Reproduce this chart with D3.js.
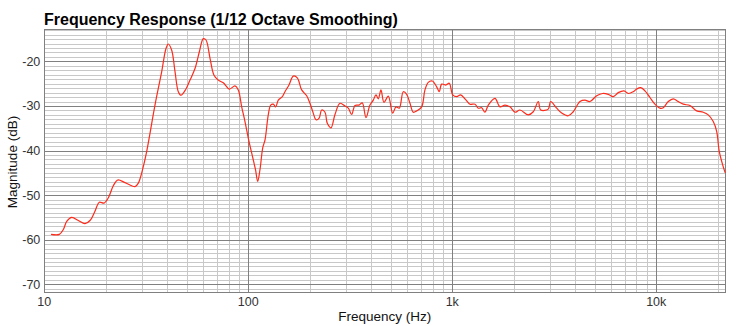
<!DOCTYPE html>
<html>
<head>
<meta charset="utf-8">
<script src="https://cdn.jsdelivr.net/npm/d3@7"></script>
<style>
body { margin: 0; background: #fff; }
text { font-family: "Liberation Sans", Arial, sans-serif; }
</style>
</head>
<body>
<script>
// frequency response values
var freq = [10.79, 11.85, 12.40, 12.88, 13.63, 14.68, 15.83, 16.75, 17.72, 18.61,
  19.62, 20.60, 21.79, 22.91, 24.86, 27.84, 28.90, 30.57, 31.77, 34.88,
  37.63, 39.50, 40.54, 42.13, 43.73, 45.39, 46.79, 49.34, 51.80, 54.80,
  57.53, 60.19, 62.05, 64.92, 67.92, 71.29, 75.43, 80.70, 86.06, 89.32,
  92.82, 96.34, 100, 105.8, 108.5, 111.2, 114.1, 117.7, 120.8, 125.3,
  128.8, 132.6, 136.2, 140.3, 146.8, 151.3, 158.3, 166.2, 173.9, 182.7,
  193.3, 200.6, 208.2, 214.7, 222.1, 229.0, 237.7, 244.0, 254.3, 266.1,
  281.5, 297.9, 309.2, 321.2, 333.4, 348.8, 362.1, 377.5, 394.9, 410.0,
  422.7, 433.8, 447.2, 462.6, 485.6, 510.4, 529.8, 549.9, 575.3, 597.8,
  620.5, 644.1, 669.3, 707.9, 734.7, 762.6, 797.8, 838.4, 863.4, 887.2,
  931.3, 966.7, 1005, 1051, 1099, 1154, 1221, 1292, 1341, 1393,
  1446, 1502, 1619, 1713, 1813, 1918, 2030, 2148, 2358, 2495,
  2640, 2713, 2955, 3036, 3249, 3438, 3704, 3919, 4227, 4472,
  4732, 5104, 5462, 5818, 6156, 6513, 6946, 7291, 7715, 8018,
  8388, 8802, 9314, 9854, 10426, 10821, 11450, 12115, 12818, 13563,
  14629, 15781, 16999, 17986, 19030, 19775, 20363, 21160, 21791];
var mag = [-58.8, -58.8, -57.7, -55.9, -55.0, -55.7, -56.4, -55.7, -53.6, -51.6,
  -51.8, -50.6, -47.9, -46.6, -47.2, -48.1, -47.3, -43.6, -40.2, -29.8,
  -22.3, -17.1, -16.1, -17.5, -22.3, -26.8, -27.6, -26.3, -24.2, -21.6,
  -17.9, -14.9, -15.2, -19.3, -23.1, -24.2, -24.8, -26.2, -25.5, -26.4,
  -30.2, -33.5, -37.2, -42.1, -44.3, -46.9, -44.3, -39.4, -37.6, -32.0,
  -29.8, -29.6, -30.2, -28.7, -27.9, -26.8, -25.3, -23.3, -23.7, -26.4,
  -27.7, -29.4, -31.6, -33.1, -32.8, -30.9, -31.4, -33.9, -34.9, -31.9,
  -29.4, -30.0, -30.5, -31.9, -29.9, -29.8, -29.3, -32.6, -29.8, -28.7,
  -27.5, -28.4, -26.4, -29.2, -27.8, -31.6, -30.2, -30.5, -26.8, -27.4,
  -29.4, -31.4, -31.1, -30.2, -26.4, -24.7, -24.4, -25.7, -26.8, -25.1,
  -25.3, -24.9, -27.5, -27.9, -27.5, -28.4, -29.6, -29.6, -30.5, -30.4,
  -31.4, -29.8, -28.3, -30.2, -29.8, -30.2, -31.4, -30.9, -32.0, -31.3,
  -29.0, -30.9, -30.7, -29.0, -30.5, -31.6, -32.2, -31.3, -29.0, -28.7,
  -29.0, -27.7, -27.2, -27.4, -27.9, -27.0, -26.6, -27.2, -26.8, -26.2,
  -25.9, -26.6, -28.1, -29.6, -30.5, -30.4, -29.0, -28.4, -29.0, -29.6,
  -29.9, -31.1, -31.4, -32.0, -33.5, -35.7, -40.2, -43.2, -45.0];

var xTicks = [10, 100, 1000, 10000];
var xTickLabels = ["10", "100", "1k", "10k"];
var yTicks = [-20, -30, -40, -50, -60, -70];

var w = 751, h = 326;
var pLeft = 44.3, pRight = 725.3, pTop = 29.3, pBottom = 292.3;

var x = d3.scaleLog().domain([10, 21800]).range([pLeft, pRight]);
var y = d3.scaleLinear().domain([-71.8, -12.8]).range([pBottom, pTop]);

var svg = d3.select("body").append("svg")
  .attr("width", w)
  .attr("height", h);

function px(v) { return Math.round(v) + 0.5; }

// griglia minore
var minorX = [];
xTicks.forEach(function(d) {
  for (var k = 2; k <= 9; k++) {
    if (k * d < 21800) minorX.push(k * d);
  }
});
var minorY = d3.range(-71, -12).filter(function(v) { return v % 10 !== 0; });

var grid = svg.append("g").attr("shape-rendering", "crispEdges");

grid.selectAll(".mx").data(minorX).enter().append("line")
  .attr("x1", function(d) { return px(x(d)); })
  .attr("x2", function(d) { return px(x(d)); })
  .attr("y1", pTop).attr("y2", pBottom)
  .attr("stroke", "#c8c8c8");

grid.selectAll(".my").data(minorY).enter().append("line")
  .attr("x1", pLeft).attr("x2", pRight)
  .attr("y1", function(d) { return px(y(d)); })
  .attr("y2", function(d) { return px(y(d)); })
  .attr("stroke", "#c8c8c8");

// griglia maggiore
grid.selectAll(".My").data(yTicks).enter().append("line")
  .attr("x1", pLeft).attr("x2", pRight)
  .attr("y1", function(d) { return px(y(d)); })
  .attr("y2", function(d) { return px(y(d)); })
  .attr("stroke", "#808080");

grid.selectAll(".Mx").data(xTicks.slice(1)).enter().append("line")
  .attr("x1", function(d) { return px(x(d)); })
  .attr("x2", function(d) { return px(x(d)); })
  .attr("y1", pTop).attr("y2", pBottom)
  .attr("stroke", "#808080");

// cornice
grid.append("rect")
  .attr("x", px(pLeft)).attr("y", px(pTop))
  .attr("width", Math.round(pRight) - Math.round(pLeft))
  .attr("height", Math.round(pBottom) - Math.round(pTop))
  .attr("fill", "none")
  .attr("stroke", "#808080");

// curva
var pts = freq.map(function(f, i) { return [f, mag[i]]; });
var line = d3.line()
  .x(function(d) { return x(d[0]); })
  .y(function(d) { return y(d[1]); })
  .curve(d3.curveCatmullRom.alpha(0.5));

svg.append("path")
  .datum(pts)
  .attr("d", line)
  .attr("fill", "none")
  .attr("stroke", "#ff2a1a")
  .attr("stroke-width", 1.2);

// etichette assi
svg.selectAll(".yt").data(yTicks).enter().append("text")
  .attr("x", pLeft - 4)
  .attr("y", function(d) { return y(d) + 4.5; })
  .attr("text-anchor", "end")
  .attr("font-size", 12.5)
  .attr("fill", "#333")
  .text(function(d) { return d; });

svg.selectAll(".xt").data(xTicks).enter().append("text")
  .attr("x", function(d) { return x(d); })
  .attr("y", 306)
  .attr("text-anchor", "middle")
  .attr("font-size", 12.5)
  .attr("fill", "#333")
  .text(function(d, i) { return xTickLabels[i]; });

svg.append("text")
  .attr("x", (pLeft + pRight) / 2)
  .attr("y", 321)
  .attr("text-anchor", "middle")
  .attr("font-size", 13.5)
  .attr("fill", "#111")
  .text("Frequency (Hz)");

svg.append("text")
  .attr("transform", "translate(17,162) rotate(-90)")
  .attr("text-anchor", "middle")
  .attr("font-size", 13.5)
  .attr("fill", "#111")
  .text("Magnitude (dB)");

svg.append("text")
  .attr("x", 44)
  .attr("y", 25)
  .attr("font-size", 16)
  .attr("font-weight", "bold")
  .attr("fill", "#000")
  .text("Frequency Response (1/12 Octave Smoothing)");
</script>
</body>
</html>
